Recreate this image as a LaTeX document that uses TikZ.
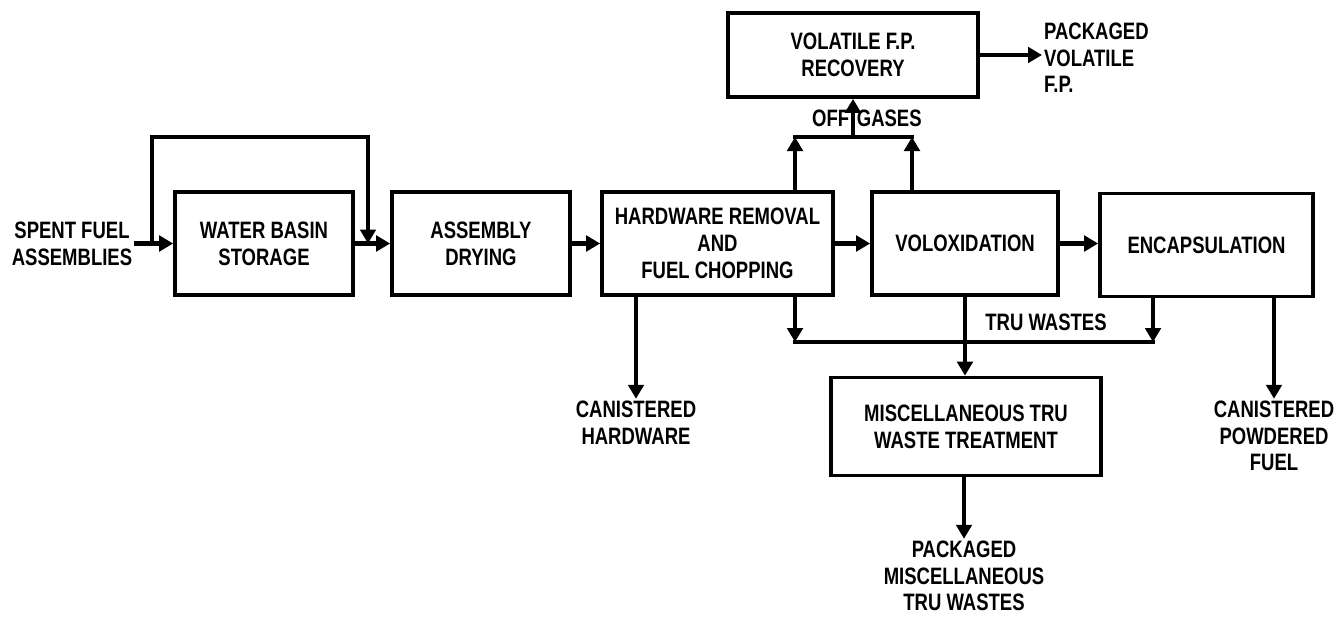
\documentclass[tikz,border=0pt]{standalone}
\usepackage{fontspec}
\newfontfamily\flowfont{Liberation Sans}[FakeStretch=0.78]
\usetikzlibrary{arrows.meta,positioning}
\tikzset{
    every node/.append style={align=center},
    box/.style={rectangle,draw=black,line width=2.1pt,minimum height=2.06cm,inner sep=2pt},
    arr/.style={-{Triangle[length=2.8mm,width=3.1mm]},line width=2.4pt},
    pipe/.style={line width=2.4pt,line cap=rect},
    lbl/.style={inner sep=1pt}
}

\begin{document}
\begin{tikzpicture}[every node/.append style={font=\flowfont\bfseries\fontsize{13.5}{15.2}\selectfont}]
    \useasboundingbox (0,0) rectangle (26.8,-12.38);

    % main row of process steps
    \node[lbl]                        (spent) at (1.44,-4.88)  {SPENT FUEL\\ASSEMBLIES};
    \node[box,minimum width=3.56cm]   (basin) at (5.28,-4.87)  {WATER BASIN\\STORAGE};
    \node[box,minimum width=3.56cm]   (dry)   at (9.62,-4.87)  {ASSEMBLY\\DRYING};
    \node[box,minimum width=4.62cm]   (hw)    at (14.35,-4.87) {HARDWARE REMOVAL\\AND\\FUEL CHOPPING};
    \node[box,minimum width=3.72cm]   (volox) at (19.30,-4.87) {VOLOXIDATION};
    \node[box,minimum width=4.26cm]   (encap) at (24.13,-4.90) {ENCAPSULATION};

    % side treatments and products
    \node[box,minimum width=5.00cm,minimum height=1.68cm] (vfp)  at (17.06,-1.10) {VOLATILE F.P.\\RECOVERY};
    \node[box,minimum width=5.40cm,minimum height=1.96cm] (misc) at (19.32,-8.53) {MISCELLANEOUS TRU\\WASTE TREATMENT};
    \node[lbl,anchor=west,align=left] (pvfp)  at (20.84,-1.16) {PACKAGED\\VOLATILE\\F.P.};
    \node[lbl]                        (chw)   at (12.72,-8.45) {CANISTERED\\HARDWARE};
    \node[lbl]                        (cpf)   at (25.48,-8.72) {CANISTERED\\POWDERED\\FUEL};
    \node[lbl]                        (pmisc) at (19.28,-11.52) {PACKAGED\\MISCELLANEOUS\\TRU WASTES};
    \node[lbl]                        (tru)   at (20.92,-6.44) {TRU WASTES};

    \coordinate (split) at (3.04,-4.87);
    \coordinate (join)  at (7.36,-4.87);
    \coordinate (gasL)  at (15.90,-2.74);
    \coordinate (gasR)  at (18.24,-2.74);
    \coordinate (truL)  at (15.90,-6.84);
    \coordinate (truR)  at (23.06,-6.84);

    \draw[arr] (spent.east |- basin) -- (basin);
    \draw[arr] (split) -- ++(0,2.13) -| (join);
    \draw[arr] (basin) -- (dry);
    \draw[arr] (dry) -- (hw);
    \draw[arr] (hw) -- (volox);
    \draw[arr] (volox) -- (volox -| encap.west);

    % off gases
    \draw[arr] (hw.north -| gasL) -- (gasL);
    \draw[arr] (volox.north -| gasR) -- (gasR);
    \draw[pipe] (gasL) -- (gasR);
    \draw[arr] (vfp.south |- gasL) -- node[lbl,left]{OFF} node[lbl,right]{GASES} (vfp);
    \draw[arr] (vfp.east) -- (vfp.east -| pvfp.west);

    % tru wastes
    \draw[arr] (hw.south -| truL) -- (truL);
    \draw[arr] (encap.south -| truR) -- (truR);
    \draw[pipe] (truL) -- (truR);
    \draw[arr] (volox.south) -- (volox.south |- misc.north);
    \draw[arr] (misc.south -| pmisc) -- (pmisc);

    \draw[arr] (hw.south -| chw) -- (chw);
    \draw[arr] (encap.south -| cpf) -- (cpf);
\end{tikzpicture}
\end{document}
